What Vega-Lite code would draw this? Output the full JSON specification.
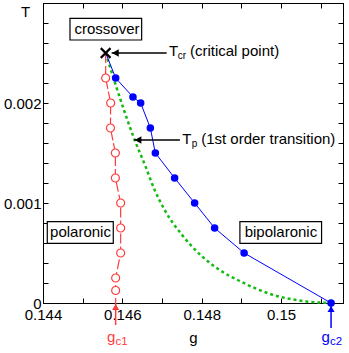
{
  "$schema": "https://vega.github.io/schema/vega-lite/v6.json",
  "width": 300,
  "height": 300,
  "autosize": {"type": "none"},
  "padding": {"left": 43, "top": 3, "right": 6, "bottom": 50},
  "config": {
    "font": "Liberation Sans",
    "view": {"stroke": "black", "strokeWidth": 1},
    "axis": {
      "labelFont": "Liberation Sans", "titleFont": "Liberation Sans",
      "labelFontSize": 15, "titleFontSize": 15, "titleFontWeight": "normal",
      "labelColor": "black", "titleColor": "black",
      "tickColor": "black", "domainColor": "black", "grid": false,
      "labelOverlap": false, "labelFlush": false, "labelBound": false
    }
  },
  "datasets": {
    "tp": [
      {"i": 0, "g": 0.145579, "T": 0.0025},
      {"i": 1, "g": 0.14604, "T": 0.00193},
      {"i": 2, "g": 0.14631, "T": 0.00163},
      {"i": 3, "g": 0.146579, "T": 0.00137},
      {"i": 4, "g": 0.146814, "T": 0.00113},
      {"i": 5, "g": 0.147066, "T": 0.00093},
      {"i": 6, "g": 0.147526, "T": 0.00067},
      {"i": 7, "g": 0.148451, "T": 0.00033},
      {"i": 8, "g": 0.148955, "T": 0.00022},
      {"i": 9, "g": 0.149786, "T": 0.000083},
      {"i": 10, "g": 0.150635, "T": 0.000016},
      {"i": 11, "g": 0.151259, "T": 0}
    ],
    "bip": [
      {"i": 0, "g": 0.145579, "T": 0.0025, "pt": false},
      {"i": 1, "g": 0.145831, "T": 0.00225, "pt": true},
      {"i": 2, "g": 0.146267, "T": 0.00206, "pt": true},
      {"i": 3, "g": 0.146461, "T": 0.002, "pt": true},
      {"i": 4, "g": 0.146705, "T": 0.00175, "pt": true},
      {"i": 5, "g": 0.146831, "T": 0.0015, "pt": true},
      {"i": 6, "g": 0.147317, "T": 0.00125, "pt": true},
      {"i": 7, "g": 0.147821, "T": 0.001, "pt": true},
      {"i": 8, "g": 0.148325, "T": 0.00075, "pt": true},
      {"i": 9, "g": 0.149068, "T": 0.0005, "pt": true},
      {"i": 10, "g": 0.151259, "T": 0, "pt": true}
    ],
    "pol": [
      {"i": 0, "g": 0.145579, "T": 0.0025, "pt": false},
      {"i": 1, "g": 0.145579, "T": 0.00225, "pt": true},
      {"i": 2, "g": 0.145705, "T": 0.002, "pt": true},
      {"i": 3, "g": 0.1457, "T": 0.00175, "pt": true},
      {"i": 4, "g": 0.145824, "T": 0.0015, "pt": true},
      {"i": 5, "g": 0.145824, "T": 0.00125, "pt": true},
      {"i": 6, "g": 0.145957, "T": 0.001, "pt": true},
      {"i": 7, "g": 0.145957, "T": 0.00075, "pt": true},
      {"i": 8, "g": 0.145957, "T": 0.0005, "pt": true},
      {"i": 9, "g": 0.145831, "T": 0.00025, "pt": true},
      {"i": 10, "g": 0.145831, "T": 0.000125, "pt": true},
      {"i": 11, "g": 0.145831, "T": 0, "pt": false}
    ],
    "boxes": [
      {"g1": 0.14468, "g2": 0.146486, "T1": 0.002847, "T2": 0.00263, "gt": 0.145612, "Tt": 0.00274, "label": "crossover"},
      {"g1": 0.144108, "g2": 0.145771, "T1": 0.000813, "T2": 0.000597, "gt": 0.144945, "Tt": 0.00071, "label": "polaronic"},
      {"g1": 0.148962, "g2": 0.15102, "T1": 0.000813, "T2": 0.000597, "gt": 0.149995, "Tt": 0.00071, "label": "bipolaronic"}
    ],
    "harrows": [
      {"g1": 0.14573, "g2": 0.147116, "T": 0.0025, "gh": 0.145825},
      {"g1": 0.1463, "g2": 0.147451, "T": 0.00163, "gh": 0.146395}
    ],
    "varrows": [
      {"who": "c1", "g": 0.145831, "T1": -0.00022, "T2": 0, "Th": -0.00004},
      {"who": "c2", "g": 0.151259, "T1": -0.00025, "T2": 0, "Th": -0.00006}
    ],
    "notes": [
      {"who": "note", "g": 0.147174, "T": 0.002467, "main": "T"},
      {"who": "note", "g": 0.147703, "T": 0.002467, "main": "(critical point)"},
      {"who": "note", "g": 0.147506, "T": 0.001587, "main": "T"},
      {"who": "note", "g": 0.147985, "T": 0.001587, "main": "(1st order transition)"},
      {"who": "c1", "g": 0.145612, "T": -0.00039, "main": "g"},
      {"who": "c2", "g": 0.15102, "T": -0.00039, "main": "g"}
    ],
    "subs": [
      {"who": "note", "g": 0.147393, "T": 0.00244, "sub": "cr"},
      {"who": "note", "g": 0.147746, "T": 0.00156, "sub": "p"},
      {"who": "c1", "g": 0.145826, "T": -0.00042, "sub": "c1"},
      {"who": "c2", "g": 0.151232, "T": -0.00042, "sub": "c2"}
    ],
    "cross": [{"g": 0.145579, "T": 0.0025}]
  },
  "resolve": {"axis": {"x": "independent", "y": "independent"}},
  "layer": [
    {
      "data": {"name": "tp"},
      "mark": {"type": "line", "color": "#11bb11", "strokeWidth": 2.5, "strokeDash": [3, 3], "interpolate": "monotone"},
      "encoding": {
        "x": {"field": "g", "type": "quantitative",
          "scale": {"domain": [0.144, 0.15156], "nice": false, "zero": false},
          "axis": {"orient": "bottom", "title": "g", "format": "~g",
            "values": [0.144, 0.145, 0.146, 0.147, 0.148, 0.149, 0.15, 0.151],
            "labelExpr": "indexof(['0.144','0.146','0.148','0.15'], datum.label) >= 0 ? datum.label : ''",
            "tickSize": -5, "labelPadding": 9, "titlePadding": 8}},
        "y": {"field": "T", "type": "quantitative",
          "scale": {"domain": [0, 0.003], "nice": false, "zero": false},
          "axis": {"orient": "left", "title": "T", "format": "~g",
            "values": [0, 0.0002, 0.0004, 0.0006, 0.0008, 0.001, 0.0012, 0.0014, 0.0016, 0.0018, 0.002, 0.0022, 0.0024, 0.0026, 0.0028, 0.003],
            "labelExpr": "indexof(['0','0.001','0.002'], datum.label) >= 0 ? datum.label : ''",
            "tickSize": -5, "labelPadding": 7,
            "titleAngle": 0, "titleX": -18, "titleY": 8, "titleAlign": "center", "titleBaseline": "middle"}},
        "order": {"field": "i", "type": "quantitative"}
      }
    },
    {
      "data": {"name": "bip"},
      "mark": {"type": "line", "color": "#0000ff", "strokeWidth": 1},
      "encoding": {
        "x": {"field": "g", "type": "quantitative", "axis": {"orient": "top", "labels": false, "title": null,
          "values": [0.144, 0.145, 0.146, 0.147, 0.148, 0.149, 0.15, 0.151], "tickSize": -5}},
        "y": {"field": "T", "type": "quantitative", "axis": {"orient": "right", "labels": false, "title": null,
          "values": [0, 0.0002, 0.0004, 0.0006, 0.0008, 0.001, 0.0012, 0.0014, 0.0016, 0.0018, 0.002, 0.0022, 0.0024, 0.0026, 0.0028, 0.003], "tickSize": -5}},
        "order": {"field": "i", "type": "quantitative"}
      }
    },
    {
      "data": {"name": "bip"},
      "transform": [{"filter": "datum.pt"}],
      "mark": {"type": "point", "shape": "circle", "filled": true, "color": "#0000ff", "size": 57, "opacity": 1},
      "encoding": {
        "x": {"field": "g", "type": "quantitative", "axis": null},
        "y": {"field": "T", "type": "quantitative", "axis": null}
      }
    },
    {
      "data": {"name": "pol"},
      "mark": {"type": "line", "color": "#ff3b3b", "strokeWidth": 1.2, "strokeDash": [10, 3]},
      "encoding": {
        "x": {"field": "g", "type": "quantitative", "axis": null},
        "y": {"field": "T", "type": "quantitative", "axis": null},
        "order": {"field": "i", "type": "quantitative"}
      }
    },
    {
      "data": {"name": "pol"},
      "transform": [{"filter": "datum.pt"}],
      "mark": {"type": "point", "shape": "circle", "filled": true, "fill": "white", "stroke": "#ff3b3b", "strokeWidth": 1.2, "size": 64, "opacity": 1},
      "encoding": {
        "x": {"field": "g", "type": "quantitative", "axis": null},
        "y": {"field": "T", "type": "quantitative", "axis": null}
      }
    },
    {
      "data": {"name": "cross"},
      "mark": {"type": "point", "shape": "M-1,-1L1,1M-1,1L1,-1", "filled": false, "stroke": "black", "strokeWidth": 2.2, "size": 95, "opacity": 1},
      "encoding": {
        "x": {"field": "g", "type": "quantitative", "axis": null},
        "y": {"field": "T", "type": "quantitative", "axis": null}
      }
    },
    {
      "data": {"name": "boxes"},
      "mark": {"type": "rect", "fill": "white", "stroke": "black", "strokeWidth": 1.2},
      "encoding": {
        "x": {"field": "g1", "type": "quantitative", "axis": null},
        "x2": {"field": "g2"},
        "y": {"field": "T1", "type": "quantitative", "axis": null},
        "y2": {"field": "T2"}
      }
    },
    {
      "data": {"name": "boxes"},
      "mark": {"type": "text", "fontSize": 15, "align": "center", "baseline": "middle", "color": "black"},
      "encoding": {
        "x": {"field": "gt", "type": "quantitative", "axis": null},
        "y": {"field": "Tt", "type": "quantitative", "axis": null},
        "text": {"field": "label"}
      }
    },
    {
      "data": {"name": "harrows"},
      "mark": {"type": "rule", "color": "black", "strokeWidth": 1.5},
      "encoding": {
        "x": {"field": "g1", "type": "quantitative", "axis": null},
        "x2": {"field": "g2"},
        "y": {"field": "T", "type": "quantitative", "axis": null}
      }
    },
    {
      "data": {"name": "harrows"},
      "mark": {"type": "point", "shape": "triangle-left", "filled": true, "color": "black", "size": 60, "opacity": 1},
      "encoding": {
        "x": {"field": "gh", "type": "quantitative", "axis": null},
        "y": {"field": "T", "type": "quantitative", "axis": null}
      }
    },
    {
      "data": {"name": "varrows"},
      "mark": {"type": "rule", "strokeWidth": 1.5},
      "encoding": {
        "x": {"field": "g", "type": "quantitative", "axis": null},
        "y": {"field": "T1", "type": "quantitative", "axis": null},
        "y2": {"field": "T2"},
        "color": {"field": "who", "type": "nominal", "scale": {"domain": ["note", "c1", "c2"], "range": ["black", "#ff3b3b", "#0000ff"]}, "legend": null}
      }
    },
    {
      "data": {"name": "varrows"},
      "mark": {"type": "point", "shape": "triangle-up", "filled": true, "size": 50, "opacity": 1},
      "encoding": {
        "x": {"field": "g", "type": "quantitative", "axis": null},
        "y": {"field": "Th", "type": "quantitative", "axis": null},
        "color": {"field": "who", "type": "nominal", "scale": {"domain": ["note", "c1", "c2"], "range": ["black", "#ff3b3b", "#0000ff"]}, "legend": null}
      }
    },
    {
      "data": {"name": "notes"},
      "mark": {"type": "text", "fontSize": 15, "align": "left", "baseline": "alphabetic"},
      "encoding": {
        "x": {"field": "g", "type": "quantitative", "axis": null},
        "y": {"field": "T", "type": "quantitative", "axis": null},
        "text": {"field": "main"},
        "color": {"field": "who", "type": "nominal", "scale": {"domain": ["note", "c1", "c2"], "range": ["black", "#ff3b3b", "#0000ff"]}, "legend": null}
      }
    },
    {
      "data": {"name": "subs"},
      "transform": [{"filter": "datum.who == 'note'"}],
      "mark": {"type": "text", "fontSize": 10, "align": "left", "baseline": "alphabetic"},
      "encoding": {
        "x": {"field": "g", "type": "quantitative", "axis": null},
        "y": {"field": "T", "type": "quantitative", "axis": null},
        "text": {"field": "sub"},
        "color": {"field": "who", "type": "nominal", "scale": {"domain": ["note", "c1", "c2"], "range": ["black", "#ff3b3b", "#0000ff"]}, "legend": null}
      }
    },
    {
      "data": {"name": "subs"},
      "transform": [{"filter": "datum.who != 'note'"}],
      "mark": {"type": "text", "fontSize": 11.5, "align": "left", "baseline": "alphabetic"},
      "encoding": {
        "x": {"field": "g", "type": "quantitative", "axis": null},
        "y": {"field": "T", "type": "quantitative", "axis": null},
        "text": {"field": "sub"},
        "color": {"field": "who", "type": "nominal", "scale": {"domain": ["note", "c1", "c2"], "range": ["black", "#ff3b3b", "#0000ff"]}, "legend": null}
      }
    }
  ]
}
